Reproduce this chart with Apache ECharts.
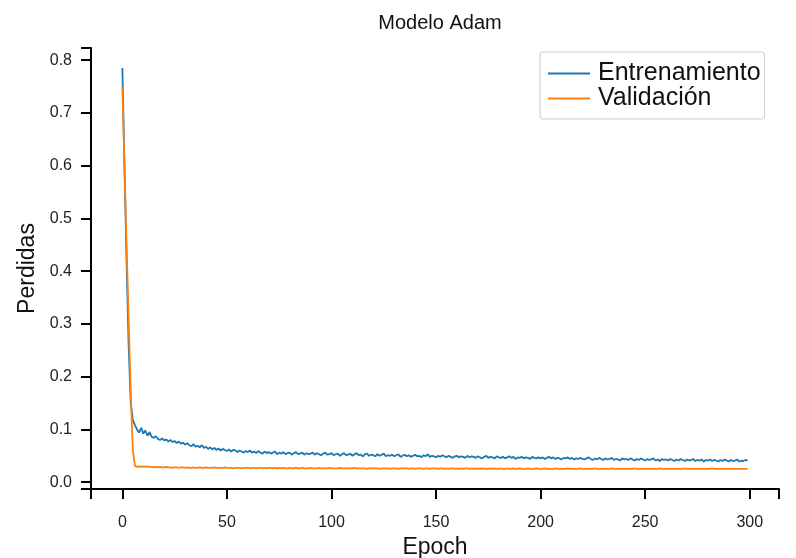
<!DOCTYPE html>
<html>
<head>
<meta charset="utf-8">
<script src="https://cdn.jsdelivr.net/npm/echarts@6/dist/echarts.min.js"></script>
<style>html,body{margin:0;padding:0;background:#fff}#c{width:796px;height:558px}</style>
</head>
<body>
<div id="c"></div>
<script>
// ---- data ----
const xTickLabels = [0, 50, 100, 150, 200, 250, 300];
const yTickLabels = [0, 0.1, 0.2, 0.3, 0.4, 0.5, 0.6, 0.7, 0.8];
const seriesNames = ['Entrenamiento', 'Validación'];

const trainLoss = [
  0.785, 0.600, 0.420, 0.260, 0.150, 0.118, 0.108, 0.100, 0.094, 0.103,
  0.092, 0.098, 0.088, 0.095, 0.086, 0.084, 0.087, 0.082, 0.080, 0.083,
  0.079, 0.081, 0.077, 0.080, 0.076, 0.078, 0.074, 0.077, 0.073, 0.075,
  0.071, 0.074, 0.070, 0.068, 0.072, 0.067, 0.069, 0.066, 0.070, 0.065,
  0.067, 0.063, 0.066, 0.062, 0.065, 0.061, 0.064, 0.060, 0.063, 0.061,
  0.059, 0.062, 0.058, 0.061, 0.060, 0.057, 0.060, 0.058, 0.056, 0.059,
  0.057, 0.060, 0.056, 0.058, 0.055, 0.059, 0.056, 0.054, 0.058, 0.055,
  0.057, 0.054, 0.056, 0.058, 0.053, 0.056, 0.054, 0.057, 0.053, 0.055,
  0.056, 0.052, 0.055, 0.057, 0.053, 0.054, 0.056, 0.052, 0.055, 0.053,
  0.054, 0.056, 0.052, 0.055, 0.053, 0.051, 0.054, 0.056, 0.052, 0.053,
  0.055, 0.051, 0.053, 0.054, 0.050, 0.053, 0.055, 0.051, 0.052, 0.054,
  0.050, 0.053, 0.055, 0.051, 0.052, 0.049, 0.053, 0.054, 0.050, 0.052,
  0.051, 0.049, 0.053, 0.050, 0.052, 0.054, 0.049, 0.051, 0.050, 0.052,
  0.049, 0.051, 0.053, 0.048, 0.050, 0.052, 0.049, 0.051, 0.048, 0.050,
  0.052, 0.049, 0.050, 0.047, 0.051, 0.049, 0.053, 0.048, 0.050, 0.049,
  0.047, 0.050, 0.048, 0.051, 0.049, 0.047, 0.050, 0.048, 0.046, 0.049,
  0.050, 0.047, 0.049, 0.048, 0.046, 0.050, 0.047, 0.049, 0.048, 0.046,
  0.049, 0.047, 0.045, 0.048, 0.050, 0.046, 0.048, 0.047, 0.045, 0.049,
  0.047, 0.046, 0.048, 0.045, 0.047, 0.049, 0.046, 0.048, 0.044, 0.047,
  0.046, 0.048, 0.045, 0.047, 0.046, 0.044, 0.048, 0.046, 0.045, 0.047,
  0.045, 0.047, 0.044, 0.046, 0.048, 0.045, 0.047, 0.044, 0.046, 0.045,
  0.043, 0.046, 0.045, 0.047, 0.044, 0.046, 0.043, 0.045, 0.044, 0.046,
  0.044, 0.043, 0.045, 0.047, 0.044, 0.042, 0.045, 0.043, 0.046, 0.044,
  0.042, 0.045, 0.043, 0.044, 0.046, 0.042, 0.044, 0.043, 0.041, 0.045,
  0.043, 0.044, 0.042, 0.045, 0.043, 0.041, 0.044, 0.042, 0.045, 0.043,
  0.041, 0.044, 0.042, 0.043, 0.045, 0.041, 0.043, 0.040, 0.044, 0.042,
  0.043, 0.041, 0.044, 0.042, 0.040, 0.043, 0.041, 0.044, 0.042, 0.040,
  0.043, 0.041, 0.042, 0.044, 0.040, 0.042, 0.041, 0.043, 0.039, 0.042,
  0.041, 0.043, 0.040, 0.042, 0.041, 0.039, 0.042, 0.040, 0.043, 0.041,
  0.039, 0.042, 0.040, 0.041, 0.043, 0.039, 0.041, 0.040, 0.042, 0.041
];

const valLoss = [
  0.750, 0.600, 0.450, 0.310, 0.170, 0.060, 0.031, 0.029, 0.030, 0.029,
  0.030, 0.029, 0.030, 0.029, 0.029, 0.028, 0.029, 0.028, 0.029, 0.028,
  0.028, 0.029, 0.028, 0.028, 0.027, 0.028, 0.028, 0.027, 0.028, 0.028,
  0.027, 0.028, 0.027, 0.027, 0.028, 0.027, 0.027, 0.028, 0.027, 0.027,
  0.028, 0.027, 0.027, 0.027, 0.028, 0.027, 0.027, 0.027, 0.027, 0.028,
  0.027, 0.027, 0.027, 0.026, 0.027, 0.027, 0.027, 0.026, 0.027, 0.027,
  0.027, 0.026, 0.027, 0.027, 0.026, 0.027, 0.027, 0.026, 0.027, 0.026,
  0.027, 0.027, 0.026, 0.027, 0.026, 0.027, 0.026, 0.027, 0.026, 0.026,
  0.027, 0.026, 0.026, 0.027, 0.026, 0.026, 0.027, 0.026, 0.026, 0.026,
  0.027, 0.026, 0.026, 0.026, 0.027, 0.026, 0.026, 0.026, 0.026, 0.027,
  0.026, 0.026, 0.026, 0.026, 0.027, 0.026, 0.026, 0.026, 0.026, 0.026,
  0.026, 0.027, 0.026, 0.026, 0.026, 0.026, 0.026, 0.025, 0.026, 0.026,
  0.026, 0.026, 0.026, 0.025, 0.026, 0.026, 0.026, 0.026, 0.025, 0.026,
  0.026, 0.026, 0.025, 0.026, 0.026, 0.026, 0.026, 0.025, 0.026, 0.026,
  0.025, 0.026, 0.026, 0.026, 0.025, 0.026, 0.026, 0.025, 0.026, 0.026,
  0.026, 0.025, 0.026, 0.026, 0.025, 0.026, 0.025, 0.026, 0.026, 0.025,
  0.026, 0.025, 0.026, 0.025, 0.026, 0.026, 0.025, 0.026, 0.025, 0.026,
  0.025, 0.026, 0.025, 0.026, 0.025, 0.025, 0.026, 0.025, 0.026, 0.025,
  0.025, 0.026, 0.025, 0.025, 0.026, 0.025, 0.025, 0.026, 0.025, 0.025,
  0.026, 0.025, 0.025, 0.025, 0.026, 0.025, 0.025, 0.025, 0.026, 0.025,
  0.025, 0.025, 0.026, 0.025, 0.025, 0.025, 0.025, 0.026, 0.025, 0.025,
  0.025, 0.025, 0.025, 0.026, 0.025, 0.025, 0.025, 0.025, 0.025, 0.026,
  0.025, 0.025, 0.025, 0.025, 0.025, 0.025, 0.026, 0.025, 0.025, 0.025,
  0.025, 0.025, 0.025, 0.025, 0.026, 0.025, 0.025, 0.025, 0.025, 0.025,
  0.025, 0.025, 0.025, 0.025, 0.025, 0.026, 0.025, 0.025, 0.025, 0.025,
  0.025, 0.025, 0.025, 0.025, 0.025, 0.025, 0.025, 0.026, 0.025, 0.025,
  0.025, 0.025, 0.025, 0.025, 0.025, 0.025, 0.025, 0.025, 0.025, 0.026,
  0.025, 0.025, 0.025, 0.025, 0.025, 0.025, 0.025, 0.025, 0.025, 0.025,
  0.025, 0.025, 0.026, 0.025, 0.025, 0.025, 0.025, 0.025, 0.025, 0.025,
  0.025, 0.025, 0.025, 0.025, 0.025, 0.025, 0.025, 0.025, 0.025, 0.025
];

// axis limits (matplotlib-style 5% margins)
const xMin = -15, xMax = 314;
const yMin = -0.013, yMax = 0.823;

const FONT = 'Liberation Sans, Arial, sans-serif';
const chart = echarts.init(document.getElementById('c'), null, {renderer: 'canvas'});

chart.setOption({
  animation: false,
  backgroundColor: '#ffffff',
  title: {
    text: 'Modelo Adam',
    left: 435, top: 8, textAlign: 'center',
    textStyle: {fontFamily: FONT, fontSize: 20, fontWeight: 'normal', color: '#111'}
  },
  legend: {
    orient: 'vertical',
    left: 540, top: 52,
    data: seriesNames.map(n => ({name: n, icon: 'rect'})),
    itemWidth: 42, itemHeight: 2, itemGap: 0,
    padding: [9, 4, 8, 8],
    borderColor: '#cccccc', borderWidth: 1, borderRadius: 3,
    backgroundColor: '#ffffff',
    textStyle: {fontFamily: FONT, fontSize: 25, color: '#111', lineHeight: 25, padding: [0, 0, 0, 3]}
  },
  grid: {left: 91, right: 17, top: 48, bottom: 69, containLabel: false, outerBoundsMode: 'none'},
  xAxis: {
    type: 'value', min: xMin, max: xMax,
    name: 'Epoch', nameLocation: 'middle', nameGap: 44,
    nameTextStyle: {fontFamily: FONT, fontSize: 23, color: '#111'},
    axisLine: {show: true, onZero: false, lineStyle: {color: '#000', width: 2}},
    axisTick: {show: true, length: 10, lineStyle: {color: '#000', width: 2},
      customValues: [xMin].concat(xTickLabels, [xMax])},
    axisLabel: {customValues: xTickLabels, margin: 26, fontFamily: FONT, fontSize: 16, color: '#222'},
    splitLine: {show: false}
  },
  yAxis: {
    type: 'value', min: yMin, max: yMax,
    name: 'Perdidas', nameLocation: 'middle', nameGap: 51, nameRotate: 90,
    nameTextStyle: {fontFamily: FONT, fontSize: 23, color: '#111'},
    axisLine: {show: true, onZero: false, lineStyle: {color: '#000', width: 2}},
    axisTick: {show: true, length: 10, lineStyle: {color: '#000', width: 2},
      customValues: [yMin].concat(yTickLabels, [yMax])},
    axisLabel: {customValues: yTickLabels, margin: 19, fontFamily: FONT, fontSize: 16, color: '#222',
      formatter: v => v.toFixed(1)},
    splitLine: {show: false}
  },
  series: [
    {name: seriesNames[0], type: 'line', symbol: 'none', showSymbol: false,
     data: trainLoss.map((v, i) => [i, v]),
     lineStyle: {color: '#1f77b4', width: 1.8}, itemStyle: {color: '#1f77b4'}},
    {name: seriesNames[1], type: 'line', symbol: 'none', showSymbol: false,
     data: valLoss.map((v, i) => [i, v]),
     lineStyle: {color: '#ff7f0e', width: 1.8}, itemStyle: {color: '#ff7f0e'}}
  ]
});
</script>
</body>
</html>
